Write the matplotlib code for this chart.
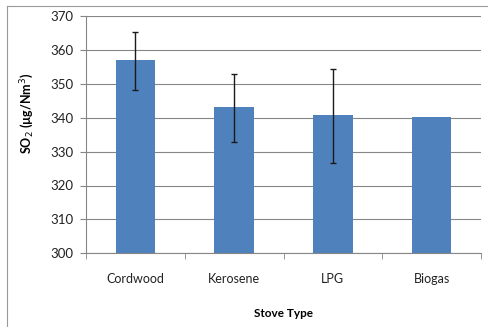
import numpy as np
import matplotlib.pyplot as plt
from matplotlib.lines import Line2D

stoves = ["Cordwood", "Kerosene", "LPG", "Biogas"]
so2_mean = [357.0, 343.1, 340.7, 340.2]
err_low = [348.1, 332.9, 326.5, 340.2]
err_high = [365.3, 353.0, 354.3, 340.2]

plt.rcParams["font.family"] = ["Lato", "DejaVu Sans"]

fig = plt.figure(figsize=(4.89, 3.27), dpi=100)
W, H = 489, 327
ax = fig.add_axes([86 / W, 1 - 253.3 / H, (481 - 86) / W, (253.3 - 16) / H])

x = np.arange(len(stoves))
mean = np.array(so2_mean)
yerr = [mean - np.array(err_low), np.array(err_high) - mean]
has_err = [True, True, True, False]
ax.bar(x, mean - 300, bottom=300, width=0.4, color="#4f81bd", zorder=2)
idx = [i for i in x if has_err[i]]
ax.errorbar(x[idx], mean[idx], yerr=[yerr[0][idx], yerr[1][idx]], fmt="none",
            ecolor="#1a1a1a", elinewidth=1.0, capsize=2.5, capthick=1.0, zorder=3)

ax.set_xlim(-0.5, len(stoves) - 0.5)
ax.set_ylim(300, 370)
ax.set_yticks(np.arange(300, 371, 10))
ax.set_xticks(x)
ax.set_xticklabels(stoves)
ax.set_xticks(np.arange(-0.5, len(stoves)), minor=True)
ax.tick_params(axis="x", which="major", length=0, pad=14, labelsize=9, colors="#222222")
ax.tick_params(axis="x", which="minor", length=4, color="#868686", direction="out")
ax.tick_params(axis="y", length=4, color="#868686", labelsize=9.5, pad=5)
ax.tick_params(axis="y", colors="#868686", labelcolor="#222222")
ax.grid(axis="y", color="#868686", linewidth=0.8, zorder=0)
ax.set_axisbelow(True)
for s in ["top", "right"]:
    ax.spines[s].set_visible(False)
for s in ["left", "bottom"]:
    ax.spines[s].set_color("#868686")
    ax.spines[s].set_linewidth(0.8)

ax.set_xlabel("Stove Type", fontsize=8.5, fontweight="bold", labelpad=17)
ax.set_ylabel("SO$_2$ (µg/Nm$^3$)", fontsize=9, fontweight="bold")
ax.yaxis.set_label_coords(-0.127, 0.589)

# outer chart-area border
fig.add_artist(Line2D([7 / W, 7 / W], [0, 1 - 6 / H], color="#9a9a9a", lw=0.8))
fig.add_artist(Line2D([7 / W, 1], [1 - 6 / H, 1 - 6 / H], color="#9a9a9a", lw=0.8))

fig.savefig("out.png", dpi=100)
